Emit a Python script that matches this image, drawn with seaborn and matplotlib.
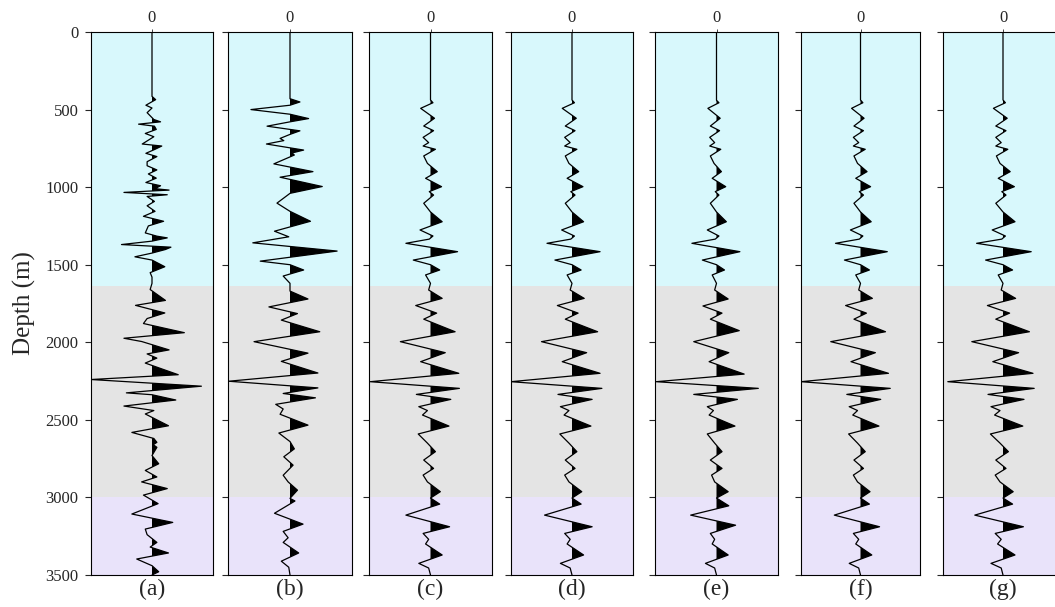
import matplotlib
matplotlib.use("Agg")

import numpy as np
import matplotlib.pyplot as plt
import seaborn as sns

# =========================
# DATA (depth in m, normalised amplitude)
# =========================
panel_labels = ["(a)", "(b)", "(c)", "(d)", "(e)", "(f)", "(g)"]
depth_ticks = [0, 500, 1000, 1500, 2000, 2500, 3000, 3500]

# layer boundaries (m) and colours
layer_tops = [0, 1635, 3000]
layer_bottoms = [1635, 3000, 3500]
layer_colors = ["#d8f8fc", "#e4e4e4", "#e9e3fa"]

trace_a = [
    (0, 0), (415, 0), (436, 0.06), (472, -0.10), (490, 0.0), (520, -0.08),
    (564, 0.03), (579, 0.14), (594, -0.22), (607, 0.04), (628, 0.07),
    (654, -0.11), (675, 0.03), (722, -0.16), (735, 0.16), (756, 0.05),
    (782, -0.10), (803, 0.08), (836, -0.08), (862, -0.08), (889, 0.08),
    (915, -0.06), (942, 0.07), (970, -0.10), (991, 0.14), (1010, 0.05),
    (1019, 0.28), (1034, -0.46), (1049, 0.25), (1060, -0.08), (1092, 0.04),
    (1120, -0.08), (1156, 0.05), (1188, -0.14), (1220, 0.19), (1250, -0.06),
    (1295, -0.11), (1316, 0.08), (1327, 0.25), (1348, 0.0), (1370, -0.50),
    (1387, 0.31), (1402, 0.22), (1425, 0.0), (1449, -0.28), (1470, 0.0),
    (1513, 0.21), (1551, -0.03), (1580, 0.0), (1620, 0.0), (1660, -0.03),
    (1730, 0.22), (1762, -0.27), (1811, 0.21), (1847, -0.08), (1879, -0.14),
    (1938, 0.53), (1974, -0.46), (1995, -0.17), (2049, 0.28), (2075, -0.08),
    (2102, 0.08), (2134, -0.11), (2209, 0.43), (2240, -1.0), (2283, 0.81),
    (2326, -0.42), (2338, 0.0), (2372, 0.39), (2411, -0.46), (2440, 0.03),
    (2462, -0.11), (2538, 0.27), (2581, -0.33), (2620, 0.03), (2645, 0.08),
    (2660, 0.02), (2677, 0.08), (2730, 0.0), (2783, 0.11), (2826, -0.11),
    (2868, 0.08), (2900, -0.17), (2943, 0.25), (2985, -0.14), (3040, 0.10),
    (3107, -0.33), (3161, 0.34), (3204, -0.11), (3240, -0.08), (3290, 0.08),
    (3320, -0.03), (3358, 0.27), (3397, -0.25), (3440, 0.0), (3479, 0.11),
    (3500, 0.0),
]

trace_b = [
    (0, 0), (430, 0), (451, 0.16), (472, 0.0), (500, -0.63), (530, 0.0),
    (558, 0.30), (579, 0.0), (607, -0.37), (637, 0.16), (660, 0.0),
    (686, -0.16), (700, -0.10), (722, -0.38), (761, 0.22), (780, 0.03),
    (793, 0.07), (850, -0.26), (900, 0.37), (936, -0.16), (996, 0.52),
    (1040, 0.0), (1103, -0.21), (1156, 0.0), (1220, 0.33), (1284, -0.25),
    (1320, -0.02), (1359, -0.60), (1412, 0.76), (1477, -0.48), (1500, 0.0),
    (1534, 0.22), (1573, -0.11), (1620, 0.0), (1670, 0.0), (1721, 0.29),
    (1772, -0.34), (1815, 0.12), (1857, -0.14), (1932, 0.48), (1996, -0.58),
    (2070, 0.29), (2123, -0.14), (2198, 0.45), (2251, -0.99), (2294, 0.45),
    (2330, -0.11), (2358, 0.41), (2400, -0.23), (2430, -0.11), (2464, -0.16),
    (2534, 0.29), (2585, -0.18), (2640, 0.0), (2687, 0.07), (2738, -0.10),
    (2792, 0.05), (2857, -0.11), (2900, -0.03), (2953, 0.12), (3006, 0.0),
    (3023, 0.08), (3102, -0.25), (3172, 0.21), (3219, -0.11), (3260, -0.03),
    (3290, -0.11), (3358, 0.14), (3411, -0.14), (3450, -0.02), (3500, 0.0),
]

trace_c = [
    (0, 0), (438, 0), (456, 0.04), (492, -0.16), (556, 0.065), (606, -0.11),
    (636, 0.05), (679, -0.12), (713, -0.03), (735, -0.12), (756, 0.08),
    (799, -0.11), (847, -0.05), (900, 0.11), (943, -0.08), (997, 0.18),
    (1029, -0.02), (1051, 0.05), (1104, -0.11), (1160, 0.0), (1223, 0.19),
    (1276, -0.17), (1315, 0.04), (1335, -0.02), (1362, -0.40), (1416, 0.44),
    (1470, -0.28), (1500, 0.0), (1534, 0.15), (1566, -0.08), (1620, 0.0),
    (1663, -0.03), (1717, 0.19), (1763, -0.24), (1812, 0.10), (1851, -0.11),
    (1932, 0.40), (1996, -0.49), (2067, 0.24), (2125, -0.16), (2200, 0.46),
    (2254, -0.98), (2297, 0.47), (2336, -0.23), (2368, 0.33), (2415, -0.19),
    (2440, -0.05), (2469, -0.13), (2540, 0.30), (2591, -0.20), (2650, -0.05),
    (2705, 0.08), (2759, -0.11), (2813, 0.05), (2856, -0.12), (2900, -0.05),
    (2963, 0.16), (3004, 0.0), (3043, 0.15), (3114, -0.40), (3189, 0.31),
    (3232, -0.12), (3270, -0.03), (3300, -0.08), (3371, 0.19), (3425, -0.19),
    (3455, -0.03), (3500, 0.0),
]

trace_d = [
    (0, 0), (438, 0), (456, 0.04), (492, -0.16), (556, 0.07), (606, -0.11),
    (636, 0.05), (679, -0.12), (713, -0.03), (735, -0.12), (756, 0.08),
    (799, -0.11), (847, -0.05), (900, 0.11), (943, -0.08), (997, 0.18),
    (1029, -0.02), (1051, 0.05), (1104, -0.11), (1160, 0.0), (1223, 0.19),
    (1276, -0.17), (1315, 0.04), (1335, -0.02), (1362, -0.41), (1416, 0.46),
    (1470, -0.28), (1500, 0.0), (1534, 0.15), (1566, -0.08), (1620, 0.0),
    (1663, -0.03), (1717, 0.20), (1763, -0.24), (1812, 0.10), (1851, -0.11),
    (1932, 0.42), (1996, -0.50), (2067, 0.24), (2125, -0.16), (2200, 0.46),
    (2254, -1.0), (2297, 0.49), (2336, -0.23), (2368, 0.33), (2415, -0.19),
    (2440, -0.05), (2469, -0.13), (2540, 0.31), (2591, -0.20), (2650, -0.05),
    (2705, 0.08), (2759, -0.11), (2813, 0.05), (2856, -0.12), (2900, -0.05),
    (2963, 0.16), (3004, 0.0), (3043, 0.15), (3114, -0.45), (3189, 0.33),
    (3232, -0.12), (3270, -0.03), (3300, -0.08), (3371, 0.19), (3425, -0.19),
    (3455, -0.03), (3500, 0.0),
]

trace_e = [
    (0, 0), (440, 0), (456, 0.04), (492, -0.14), (556, 0.06), (606, -0.10),
    (636, 0.05), (679, -0.11), (713, -0.03), (735, -0.11), (756, 0.07),
    (799, -0.10), (847, -0.04), (900, 0.08), (943, -0.07), (997, 0.15),
    (1029, -0.02), (1051, 0.04), (1104, -0.10), (1160, 0.0), (1223, 0.16),
    (1276, -0.15), (1315, 0.04), (1335, -0.02), (1362, -0.40), (1416, 0.38),
    (1470, -0.23), (1500, 0.0), (1534, 0.13), (1566, -0.07), (1620, 0.0),
    (1663, -0.03), (1721, 0.19), (1766, -0.22), (1812, 0.09), (1851, -0.10),
    (1925, 0.37), (1996, -0.37), (2067, 0.20), (2125, -0.12), (2205, 0.45),
    (2254, -0.98), (2297, 0.68), (2336, -0.37), (2368, 0.34), (2415, -0.15),
    (2440, -0.05), (2469, -0.12), (2540, 0.30), (2591, -0.15), (2650, -0.03),
    (2705, 0.09), (2759, -0.10), (2813, 0.09), (2856, -0.08), (2900, -0.03),
    (2963, 0.19), (3004, 0.0), (3054, 0.20), (3114, -0.42), (3179, 0.31),
    (3232, -0.10), (3270, -0.03), (3300, -0.07), (3371, 0.19), (3425, -0.18),
    (3455, -0.03), (3500, 0.0),
]

trace_f = [
    (0, 0), (438, 0), (456, 0.04), (492, -0.15), (556, 0.06), (606, -0.11),
    (636, 0.05), (679, -0.12), (713, -0.03), (735, -0.12), (756, 0.08),
    (799, -0.11), (847, -0.05), (900, 0.11), (943, -0.08), (997, 0.17),
    (1029, -0.02), (1051, 0.05), (1104, -0.11), (1160, 0.0), (1223, 0.18),
    (1276, -0.17), (1315, 0.04), (1335, -0.02), (1362, -0.42), (1416, 0.45),
    (1470, -0.27), (1500, 0.0), (1534, 0.15), (1566, -0.08), (1620, 0.0),
    (1663, -0.03), (1717, 0.20), (1763, -0.25), (1812, 0.10), (1851, -0.11),
    (1932, 0.42), (1996, -0.50), (2067, 0.25), (2125, -0.16), (2200, 0.47),
    (2254, -1.0), (2297, 0.50), (2336, -0.23), (2368, 0.34), (2415, -0.19),
    (2440, -0.05), (2469, -0.13), (2540, 0.31), (2591, -0.20), (2650, -0.05),
    (2705, 0.08), (2759, -0.11), (2813, 0.05), (2856, -0.12), (2900, -0.05),
    (2963, 0.16), (3004, 0.0), (3043, 0.15), (3114, -0.44), (3189, 0.32),
    (3232, -0.12), (3270, -0.03), (3300, -0.08), (3371, 0.19), (3425, -0.19),
    (3455, -0.03), (3500, 0.0),
]

trace_g = [
    (0, 0), (438, 0), (456, 0.04), (492, -0.16), (556, 0.07), (606, -0.12),
    (636, 0.05), (679, -0.12), (713, -0.03), (735, -0.12), (756, 0.08),
    (799, -0.11), (847, -0.05), (900, 0.12), (943, -0.08), (997, 0.19),
    (1029, -0.02), (1051, 0.05), (1104, -0.12), (1160, 0.0), (1223, 0.20),
    (1276, -0.18), (1315, 0.04), (1335, -0.02), (1362, -0.44), (1416, 0.47),
    (1470, -0.29), (1500, 0.0), (1534, 0.16), (1566, -0.08), (1620, 0.0),
    (1663, -0.03), (1717, 0.21), (1763, -0.26), (1812, 0.11), (1851, -0.12),
    (1932, 0.44), (1996, -0.52), (2067, 0.26), (2125, -0.17), (2200, 0.50),
    (2254, -0.92), (2297, 0.52), (2336, -0.25), (2368, 0.35), (2415, -0.20),
    (2440, -0.05), (2469, -0.14), (2540, 0.33), (2591, -0.21), (2650, -0.05),
    (2705, 0.09), (2759, -0.12), (2813, 0.05), (2856, -0.13), (2900, -0.05),
    (2963, 0.17), (3004, 0.0), (3043, 0.16), (3114, -0.47), (3189, 0.34),
    (3232, -0.13), (3270, -0.03), (3300, -0.09), (3371, 0.20), (3425, -0.20),
    (3455, -0.03), (3500, 0.0),
]

traces = [trace_a, trace_b, trace_c, trace_d, trace_e, trace_f, trace_g]

# panel edges in pixels (left, right)
panel_px = [(91, 213), (228, 352), (369, 492), (511, 633),
            (655, 778), (801, 920), (943, 1063)]

# =========================
# STYLE
# =========================
sns.set_theme(style="ticks")
plt.rcParams["font.family"] = ["Liberation Serif", "DejaVu Serif"]

W, H = 1055, 607
fig = plt.figure(figsize=(W / 100, H / 100), dpi=100)
fig.patch.set_facecolor("white")

y_top_px, y_bot_px = 32, 575
bottom = 1 - y_bot_px / H
height = (y_bot_px - y_top_px) / H

for i, (trace, label, (x0, x1)) in enumerate(zip(traces, panel_labels, panel_px)):
    ax = fig.add_axes([x0 / W, bottom, (x1 - x0) / W, height])
    arr = np.array(trace, dtype=float)
    depth, amp = arr[:, 0], arr[:, 1]

    for top, bot, col in zip(layer_tops, layer_bottoms, layer_colors):
        ax.axhspan(top, bot, color=col, lw=0, zorder=0)

    ax.fill_betweenx(depth, 0, amp, where=amp > 0, interpolate=True,
                     color="black", lw=0, zorder=2)
    sns.lineplot(x=amp, y=depth, orient="y", sort=True, color="black",
                 lw=0.9, ax=ax, zorder=3)

    ax.set_xlim(-1.0, 1.0)
    ax.set_ylim(3500, 0)
    ax.set_yticks(depth_ticks)
    if i == 0:
        ax.set_yticklabels([str(t) for t in depth_ticks], fontsize=12)
        ax.set_ylabel("Depth (m)", fontsize=18, labelpad=7)
    else:
        ax.set_yticklabels([])
        ax.set_ylabel("")
    ax.tick_params(axis="y", length=4, width=0.8, direction="out", pad=5)

    ax.set_xticks([0])
    ax.set_xticklabels(["0"], fontsize=12)
    ax.xaxis.set_ticks_position("top")
    ax.tick_params(axis="x", length=2, width=0.6, pad=2)
    ax.xaxis.set_label_position("bottom")
    ax.set_xlabel(label, fontsize=17, labelpad=3)

    for sp in ax.spines.values():
        sp.set_visible(True)
        sp.set_linewidth(0.8)
        sp.set_color("black")

plt.savefig("out.png", dpi=100)
plt.close()
